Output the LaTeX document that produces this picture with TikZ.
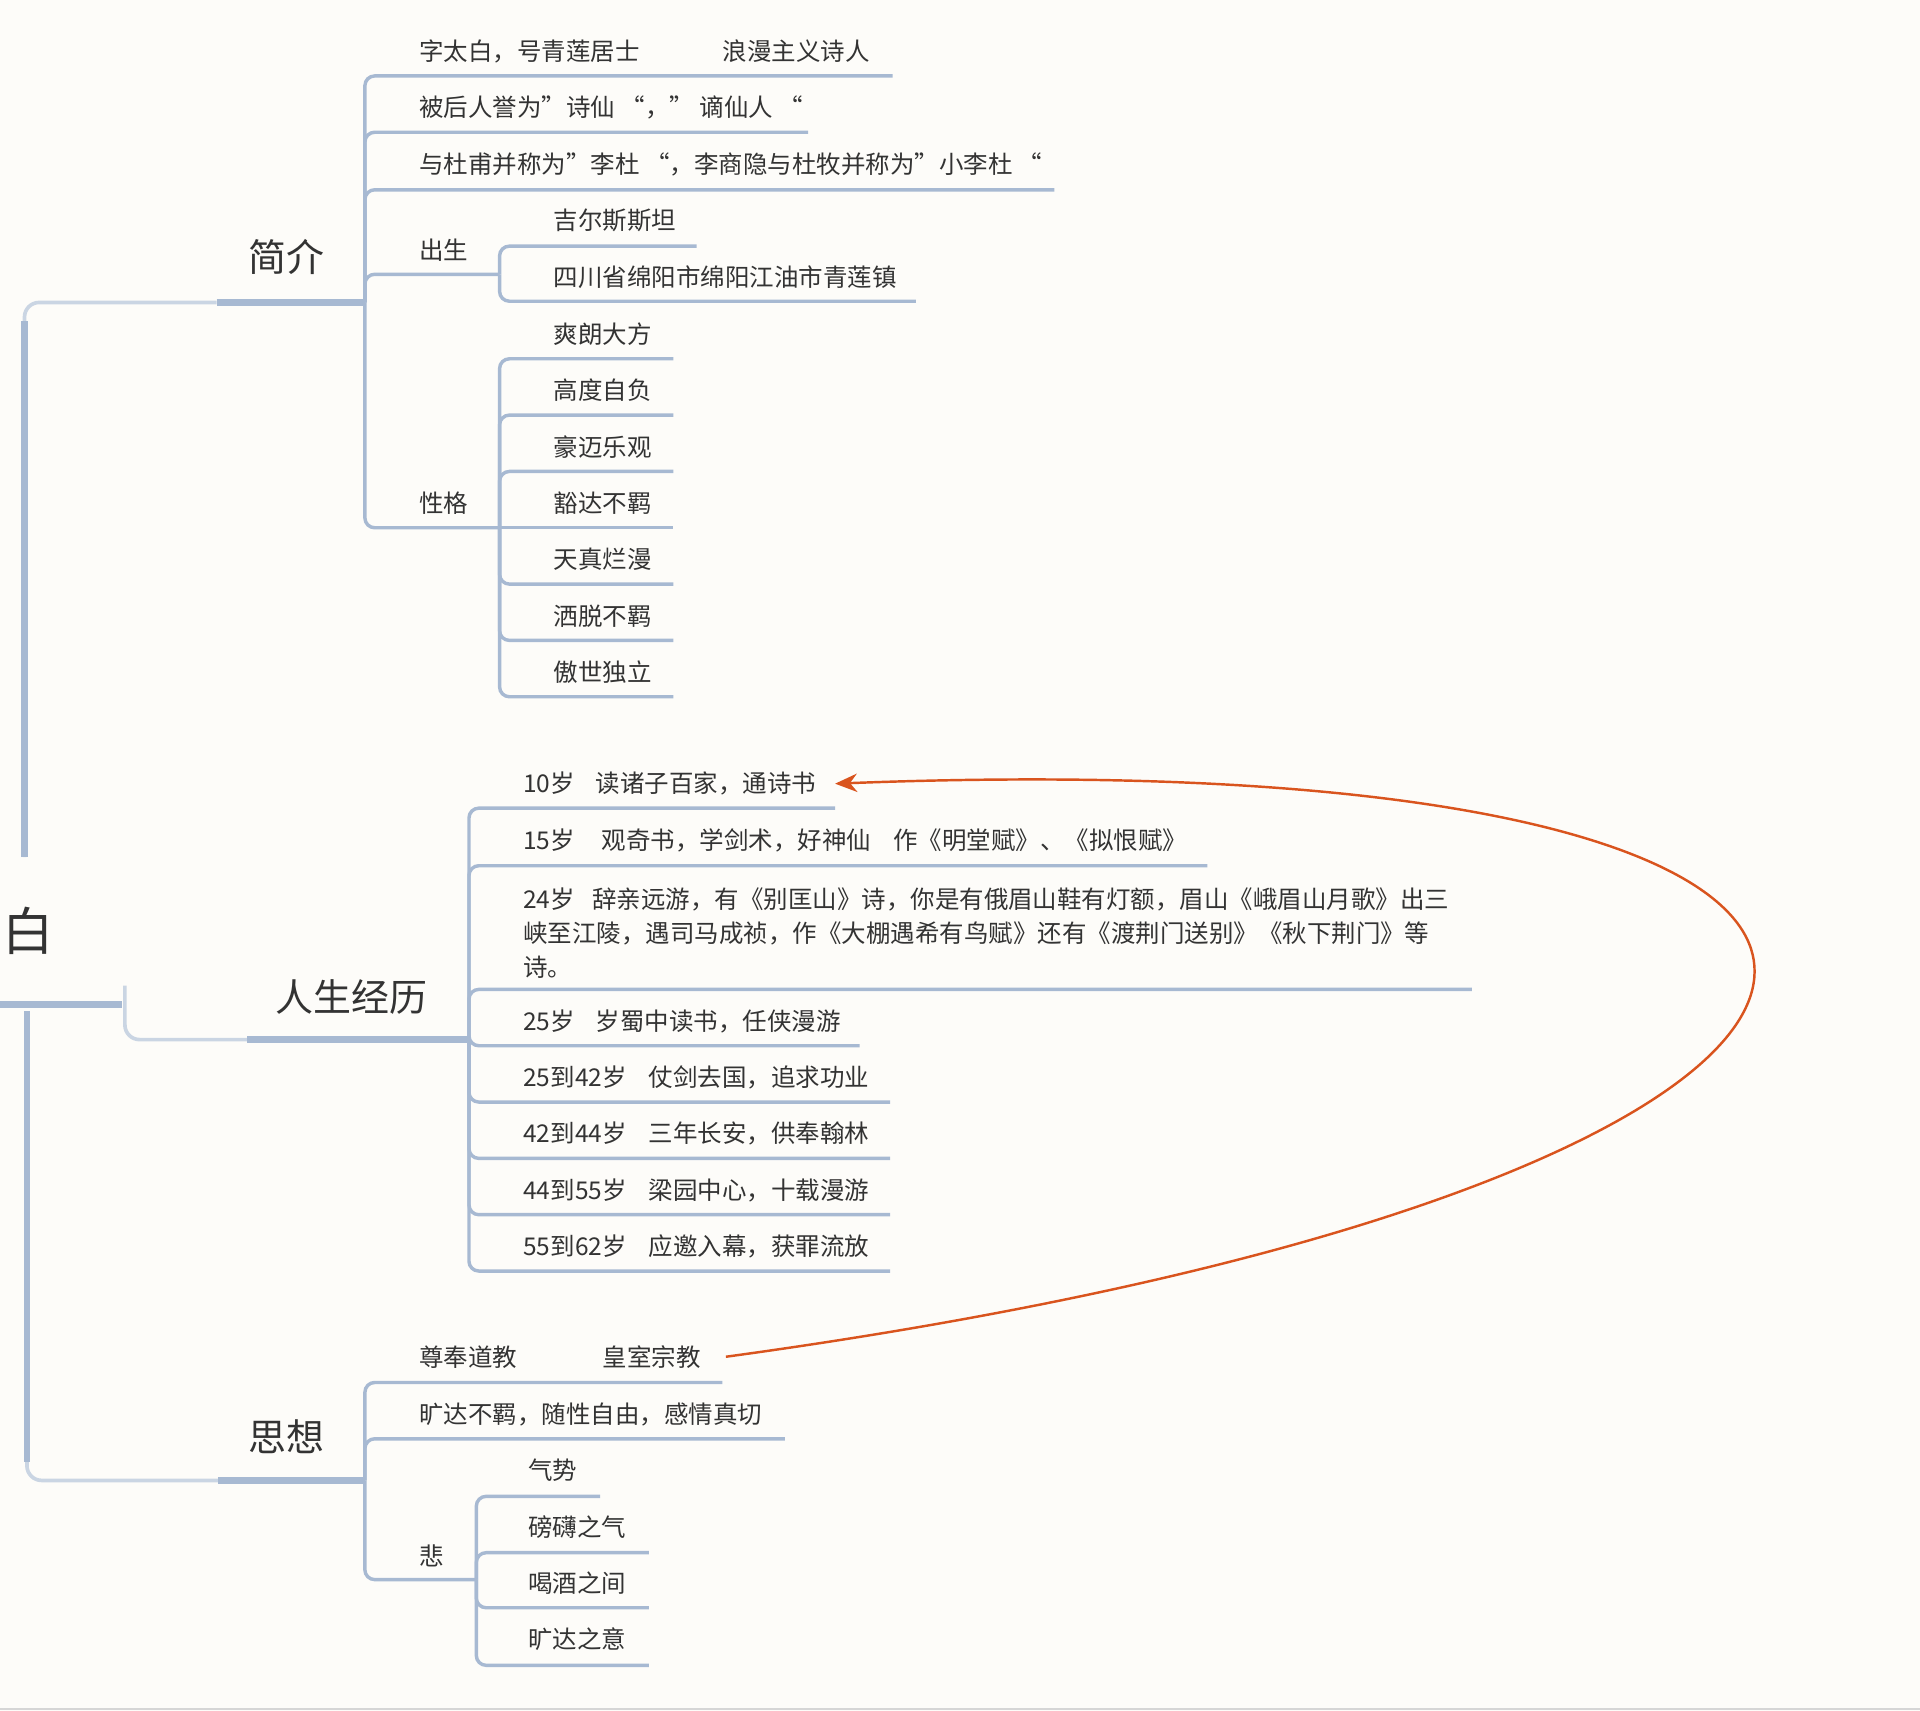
\documentclass[tikz,border=0pt]{standalone}
\usepackage{fontspec}
\setmainfont{Noto Sans CJK SC}
\usetikzlibrary{arrows.meta}
\definecolor{paper}{HTML}{FDFCF9}
\definecolor{edge}{HTML}{A7B9D2}
\definecolor{edgelite}{HTML}{CAD5E3}
\definecolor{ink}{HTML}{333333}
\definecolor{relation}{HTML}{D9541E}
\definecolor{rule}{HTML}{D6D6D6}

\begin{document}
\begin{tikzpicture}[x=0.5pt, y=-0.5pt,
    leaf/.style={anchor=west, inner sep=0pt, text=ink,
      font=\fontsize{10}{14}\selectfont, align=left},
    topic/.style={inner sep=0pt, text=ink, font=\fontsize{15.5}{18}\selectfont},
    link/.style={color=edge, line width=1.4pt, rounded corners=4pt},
    bar/.style={color=edge, line width=2.7pt},
    trunk/.style={color=edgelite, line width=1.5pt, rounded corners=6pt}]

  \useasboundingbox (0,0) rectangle (1568,1397);
  \fill[paper] (0,0) rectangle (1568,1397);
  \coordinate (f0) at (0,1396); \coordinate (f1) at (1568,1396);
  \draw[rule, line width=0.8pt] (f0) -- (f1);

  % root and main topics
  \node[topic, font=\fontsize{21}{24}\selectfont] (root) at (23,760) {白};
  \node[topic] (jj) at (234,210) {简介};
  \node[topic] (rs) at (287,814) {人生经历};
  \node[topic] (sx) at (234,1173) {思想};

  \coordinate (r0) at (0,820); \coordinate (r1) at (100,820);
  \coordinate (rt) at (20,700); \coordinate (rtc) at (20,262);
  \coordinate (rb) at (22,826); \coordinate (rbc) at (22,1194);
  \coordinate (rm) at (102,805);
  \coordinate (jjl) at (177,247); \coordinate (jjr) at (298,247);
  \coordinate (rsl) at (202,849); \coordinate (rsr) at (383,849);
  \coordinate (sxl) at (178,1209); \coordinate (sxr) at (298,1209);

  \draw[bar, line width=2.8pt] (r0) -- (r1);
  \draw[trunk] (rt) |- (jjl);
  \draw[bar] (rt) -- (rtc);
  \draw[trunk] (rb) |- (sxl);
  \draw[bar] (rb) -- (rbc);
  \draw[trunk] (rm) |- (rsl);
  \draw[bar] (jjl) -- (jjr);
  \draw[bar] (rsl) -- (rsr);
  \draw[bar] (sxl) -- (sxr);

  \begin{scope}[every node/.style={leaf}]
    \node (jj1) at (342,42) {字太白，号青莲居士\hspace{34pt}浪漫主义诗人};
    \node (jj2) at (342,88) {被后人誉为”诗仙 “，” 谪仙人 “};
    \node (jj3) at (342,134) {与杜甫并称为”李杜 “，李商隐与杜牧并称为”小李杜 “};
    \node (cs) at (342,204) {出生};
    \node (cs1) at (452,180) {吉尔斯斯坦};
    \node (cs2) at (452,226) {四川省绵阳市绵阳江油市青莲镇};
    \node (xg) at (342,411) {性格};
    \node (xg1) at (452,273) {爽朗大方};
    \node (xg2) at (452,319) {高度自负};
    \node (xg3) at (452,365) {豪迈乐观};
    \node (xg4) at (452,411) {豁达不羁};
    \node (xg5) at (452,457) {天真烂漫};
    \node (xg6) at (452,503) {洒脱不羁};
    \node (xg7) at (452,549) {傲世独立};

    \node (rs1) at (427,640) {10岁\hspace{8.5pt}读诸子百家，通诗书};
    \node (rs2) at (427,686) {15岁\hspace{11pt}观奇书，学剑术，好神仙\hspace{9pt}作《明堂赋》、《拟恨赋》};
    \node (rs3) at (427,762) {24岁\hspace{7pt}辞亲远游，有《别匡山》诗，你是有俄眉山鞋有灯额，眉山《峨眉山月歌》出三\\
      峡至江陵，遇司马成祯，作《大棚遇希有鸟赋》还有《渡荆门送别》《秋下荆门》等\\
      诗。};
    \node (rs4) at (427,834) {25岁\hspace{8.5pt}岁蜀中读书，任侠漫游};
    \node (rs5) at (427,880) {25到42岁\hspace{9pt}仗剑去国，追求功业};
    \node (rs6) at (427,926) {42到44岁\hspace{9pt}三年长安，供奉翰林};
    \node (rs7) at (427,972) {44到55岁\hspace{9pt}梁园中心，十载漫游};
    \node (rs8) at (427,1018) {55到62岁\hspace{9pt}应邀入幕，获罪流放};

    \node (sx1) at (342,1108) {尊奉道教\hspace{35pt}皇室宗教};
    \node (sx2) at (342,1155) {旷达不羁，随性自由，感情真切};
    \node (bei) at (342,1271) {悲};
    \node (bei1) at (431,1201) {气势};
    \node (bei2) at (431,1247) {磅礴之气};
    \node (bei3) at (431,1293) {喝酒之间};
    \node (bei4) at (431,1339) {旷达之意};
  \end{scope}

  % underline ends
  \coordinate (jj1e) at (729,62);  \coordinate (jj2e) at (660,108);
  \coordinate (jj3e) at (861,155); \coordinate (csj) at (408,224);
  \coordinate (cs1e) at (569,201); \coordinate (cs2e) at (748,246);
  \coordinate (xgj) at (408,431);
  \coordinate (xg1e) at (550,293); \coordinate (xg2e) at (550,339);
  \coordinate (xg3e) at (550,385); \coordinate (xg4e) at (550,431);
  \coordinate (xg5e) at (550,477); \coordinate (xg6e) at (550,523);
  \coordinate (xg7e) at (550,569);
  \coordinate (rs1e) at (682,660);  \coordinate (rs2e) at (986,707);
  \coordinate (rs3e) at (1202,808); \coordinate (rs4e) at (702,854);
  \coordinate (rs5e) at (727,900);  \coordinate (rs6e) at (727,946);
  \coordinate (rs7e) at (727,992);  \coordinate (rs8e) at (727,1038);
  \coordinate (sx1e) at (590,1129); \coordinate (sx2e) at (641,1175);
  \coordinate (beij) at (389,1290);
  \coordinate (bei1e) at (490,1222); \coordinate (bei2e) at (530,1268);
  \coordinate (bei3e) at (530,1313); \coordinate (bei4e) at (530,1360);

  \begin{scope}[link]
    \draw (jjr) |- (jj1e); \draw (jjr) |- (jj2e); \draw (jjr) |- (jj3e);
    \draw (jjr) |- (csj); \draw (jjr) |- (xgj);
    \draw (csj) |- (cs1e); \draw (csj) |- (cs2e);
    \draw (xgj) |- (xg1e); \draw (xgj) |- (xg2e); \draw (xgj) |- (xg3e);
    \draw (xgj) -- (xg4e);
    \draw (xgj) |- (xg5e); \draw (xgj) |- (xg6e); \draw (xgj) |- (xg7e);

    \draw (rsr) |- (rs1e); \draw (rsr) |- (rs2e); \draw (rsr) |- (rs3e);
    \draw (rsr) |- (rs4e); \draw (rsr) |- (rs5e); \draw (rsr) |- (rs6e);
    \draw (rsr) |- (rs7e); \draw (rsr) |- (rs8e);

    \draw (sxr) |- (sx1e); \draw (sxr) |- (sx2e); \draw (sxr) |- (beij);
    \draw (beij) |- (bei1e); \draw (beij) |- (bei2e);
    \draw (beij) |- (bei3e); \draw (beij) |- (bei4e);
  \end{scope}

  \draw[relation, line width=1pt, -{Stealth[length=9pt, width=7.5pt]}]
    ([xshift=10pt]sx1.east) .. controls (1675,960) and (1715,600)
    .. ([xshift=7.5pt]rs1.east);

\end{tikzpicture}
\end{document}
